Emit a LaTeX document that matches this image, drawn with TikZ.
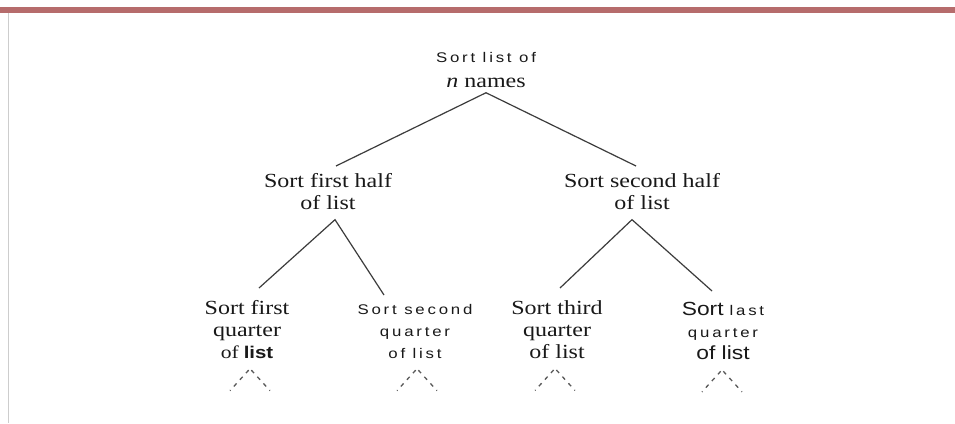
\documentclass[tikz,border=0pt]{standalone}
\usepackage{fontspec}
\setmainfont{Liberation Serif}[FakeStretch=1.2]
\newfontfamily\slsfont{Liberation Sans}[FakeStretch=1.2,LetterSpace=20]
\newfontfamily\sbigfont{Liberation Sans}[FakeStretch=1.2]
\newcommand\smallsp[1]{{\slsfont\fontsize{14}{16}\selectfont #1}}
\newcommand\bigsans[1]{{\sbigfont\fontsize{19}{20}\selectfont #1}}
\definecolor{band}{RGB}{182,108,108}
\definecolor{frameline}{RGB}{205,205,205}
\definecolor{ink}{RGB}{60,60,60}
\begin{document}
\begin{tikzpicture}[x=1pt,y=-1pt,
  txt/.style={inner sep=0pt, align=center, anchor=north, font=\fontsize{20}{22}\selectfont, text=black!90},
  link/.style={draw=ink, line width=1.2pt},
  dl/.style={draw=ink!85, line width=1.3pt, dash pattern=on 4pt off 5pt, dash phase=-2pt}]
\useasboundingbox (0,0) rectangle (955,423);
\fill[white] (0,0) rectangle (955,423);
\fill[band] (0,7) rectangle (955,13);
\draw[frameline, line width=0.8pt] (8,13) -- (8,423);

\node[txt] (root) at (486,52) {\smallsp{Sort list of}\\[3pt]{\itshape n} names};
\node[txt] (h1) at (328,173) {Sort first half\\of list};
\node[txt] (h2) at (642,173) {Sort second half\\of list};
\node[txt] (q1) at (247,300) {Sort first\\quarter\\{\fontsize{18}{20}\selectfont of}\hspace{5pt}{\sbigfont\bfseries\fontsize{17}{18}\selectfont list}};
\node[txt] (q2) at (415,304) {\smallsp{Sort second}\\\smallsp{quarter}\\\smallsp{of list}};
\node[txt] (q3) at (557,300) {Sort third\\quarter\\of list};
\node[txt] (q4) at (723,302) {\bigsans{Sort} \smallsp{last}\\\smallsp{quarter}\\\bigsans{of list}};

\draw[link] ([xshift=8pt,yshift=7pt]h1.north) -- ([yshift=-5pt]root.south) -- ([xshift=-6pt,yshift=7pt]h2.north);
\draw[link] ([xshift=12pt,yshift=12pt]q1.north) -- ([xshift=7pt,yshift=-10pt]h1.south) -- ([xshift=-31pt,yshift=9pt]q2.north);
\draw[link] ([xshift=3pt,yshift=12pt]q3.north) -- ([xshift=-10pt,yshift=-10pt]h2.south) -- ([xshift=-11pt,yshift=11pt]q4.north);

\foreach \q/\dx in {q1/3,q2/2,q3/-2,q4/-1}{
  \draw[dl] ([xshift=\dx pt,yshift=-10pt]\q.south) -- ++(-20,22);
  \draw[dl] ([xshift=\dx pt,yshift=-10pt]\q.south) -- ++(20,22);
}
\end{tikzpicture}
\end{document}
